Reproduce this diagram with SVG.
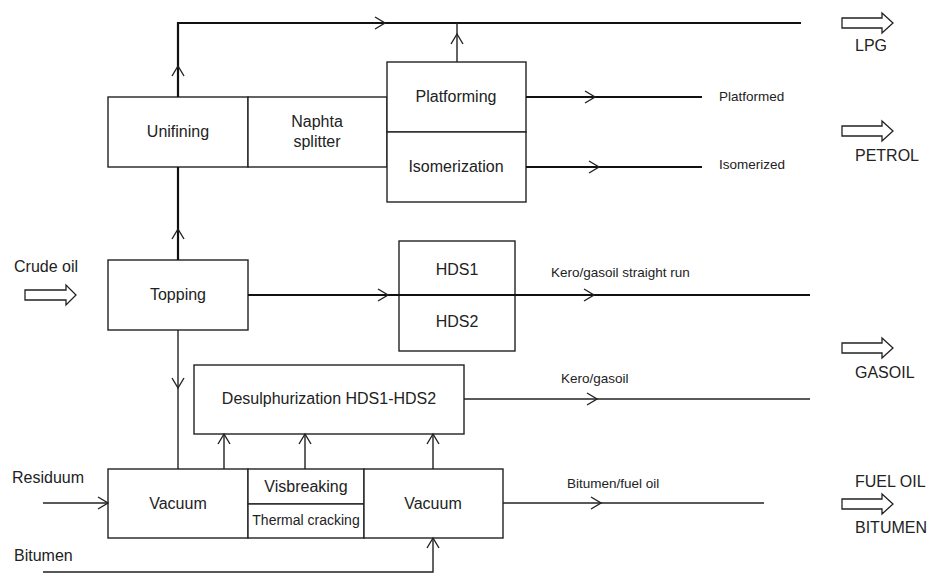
<svg xmlns="http://www.w3.org/2000/svg" width="930" height="573" viewBox="0 0 930 573">
<style>
.box{fill:#fff;stroke:#222;stroke-width:1.4}
.ln{fill:none;stroke:#222;stroke-width:1.4}
.thk{fill:none;stroke:#111;stroke-width:2.2}
.chev{fill:none;stroke:#222;stroke-width:1.4}
.hol{fill:#fff;stroke:#222;stroke-width:1.3}
text{font-family:"Liberation Sans",Arial,sans-serif;fill:#222}
.t15{font-size:16px;text-anchor:middle}
.t12{font-size:13.5px}
.t13{font-size:14px;text-anchor:middle}
.out{font-size:16px}
</style>
<rect width="930" height="573" fill="#fff"/>
<g id="unifining"><rect class="box" x="108" y="97" width="140" height="70"/><text class="t15" x="178" y="137">Unifining</text></g>
<g id="naphta-splitter"><rect class="box" x="248" y="97" width="139" height="70"/><text class="t15" x="317" y="127">Naphta</text><text class="t15" x="317" y="147">splitter</text></g>
<g id="platforming"><rect class="box" x="387" y="62" width="139" height="70"/><text class="t15" x="456" y="102">Platforming</text></g>
<g id="isomerization"><rect class="box" x="387" y="132" width="139" height="70"/><text class="t15" x="456" y="172">Isomerization</text></g>
<g id="topping"><rect class="box" x="108" y="260" width="140" height="70"/><text class="t15" x="178" y="300">Topping</text></g>
<g id="hds"><rect class="box" x="399" y="241" width="116" height="110"/><text class="t15" x="457" y="275">HDS1</text><text class="t15" x="457" y="327">HDS2</text></g>
<g id="desulphurization"><rect class="box" x="194" y="365" width="270" height="69"/><text class="t15" x="329" y="404">Desulphurization HDS1-HDS2</text></g>
<g id="vacuum1"><rect class="box" x="108" y="469" width="140" height="69"/><text class="t15" x="178" y="509">Vacuum</text></g>
<g id="visbreaking"><rect class="box" x="248" y="469" width="116" height="35"/><text class="t15" x="306" y="492">Visbreaking</text></g>
<g id="thermal-cracking"><rect class="box" x="248" y="504" width="116" height="34"/><text class="t13" x="306" y="525">Thermal cracking</text></g>
<g id="vacuum2"><rect class="box" x="364" y="469" width="139" height="69"/><text class="t15" x="433" y="509">Vacuum</text></g>
<g id="connectors">
  <path class="thk" d="M178,97 V23 H801"/>
  <path class="chev" d="M172,76 L178,66 L184,76"/>
  <path class="chev" d="M375,17 L385,23 L375,29"/>
  <path class="ln" d="M457,62 V23"/>
  <path class="chev" d="M451,44 L457,34 L463,44"/>
  <path class="thk" d="M526,97 H702"/>
  <path class="chev" d="M585,91 L595,97 L585,103"/>
  <path class="thk" d="M526,167 H702"/>
  <path class="chev" d="M589,161 L599,167 L589,173"/>
  <path class="thk" d="M178,260 V167"/>
  <path class="chev" d="M172,239 L178,229 L184,239"/>
  <path class="thk" d="M248,295 H810"/>
  <path class="chev" d="M378,289 L388,295 L378,301"/>
  <path class="chev" d="M584,289 L594,295 L584,301"/>
  <path class="ln" d="M178,330 V469"/>
  <path class="chev" d="M172,378 L178,388 L184,378"/>
  <path class="ln" d="M464,399 H810"/>
  <path class="chev" d="M587,393 L597,399 L587,405"/>
  <path class="ln" d="M224,469 V434"/>
  <path class="chev" d="M218,444 L224,434 L230,444"/>
  <path class="ln" d="M305,469 V434"/>
  <path class="chev" d="M299,444 L305,434 L311,444"/>
  <path class="ln" d="M433,469 V434"/>
  <path class="chev" d="M427,444 L433,434 L439,444"/>
  <path class="ln" d="M43,503 H108"/>
  <path class="chev" d="M98,497 L108,503 L98,509"/>
  <path class="ln" d="M503,503 H764"/>
  <path class="chev" d="M591,497 L601,503 L591,509"/>
  <path class="ln" d="M43,572 H433 V538" stroke="#555"/>
  <path class="chev" d="M427,548 L433,538 L439,548"/>
</g>
<g id="labels">
  <text class="t12" x="719" y="101">Platformed</text>
  <text class="t12" x="719" y="169">Isomerized</text>
  <text class="t12" x="551" y="277">Kero/gasoil straight run</text>
  <text class="t12" x="561" y="383">Kero/gasoil</text>
  <text class="t12" x="567" y="488">Bitumen/fuel oil</text>
  <text class="out" x="14" y="272">Crude oil</text>
  <text class="out" x="12" y="483">Residuum</text>
  <text class="out" x="14" y="561">Bitumen</text>
</g>
<g id="outputs">
  <polygon class="hol" points="25,290 66,290 66,285 76,295 66,305 66,300 25,300"/>
  <polygon class="hol" points="842,18 882,18 882,13 893,23 882,33 882,28 842,28"/>
  <text class="out" x="855" y="51">LPG</text>
  <polygon class="hol" points="842,126 882,126 882,121 893,131 882,141 882,136 842,136"/>
  <text class="out" x="855" y="161">PETROL</text>
  <polygon class="hol" points="842,343 882,343 882,338 893,348 882,358 882,353 842,353"/>
  <text class="out" x="855" y="378">GASOIL</text>
  <text class="out" x="855" y="487">FUEL OIL</text>
  <polygon class="hol" points="842,499 882,499 882,494 893,504 882,514 882,509 842,509"/>
  <text class="out" x="855" y="533">BITUMEN</text>
</g>
</svg>
